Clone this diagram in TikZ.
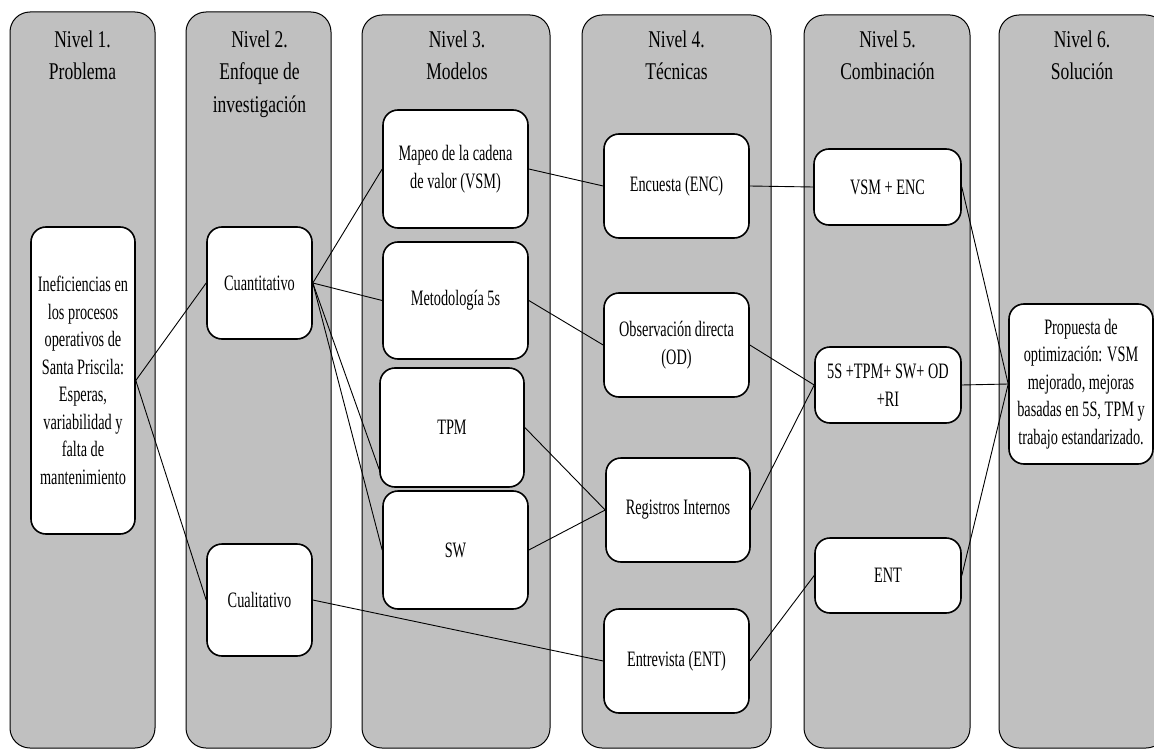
\documentclass[tikz,border=0pt]{standalone}
\usepackage{fontspec}
\setmainfont{Liberation Serif}[FakeStretch=0.65]
\newfontfamily\headfont{Liberation Serif}[FakeStretch=0.73]
\definecolor{lanegray}{RGB}{192,192,192}

\begin{document}
\begin{tikzpicture}[x=1pt,y=-1pt,
  lane/.style={draw=black, line width=1pt, fill=lanegray, rounded corners=20pt},
  head/.style={anchor=north, align=center, inner sep=0pt,
    font=\headfont\fontsize{24}{32.5}\selectfont},
  box/.style={draw=black, line width=1.6pt, fill=white, rounded corners=15pt,
    align=center, inner sep=0pt, font=\fontsize{22}{27.5}\selectfont},
  link/.style={draw=black, line width=0.9pt}]

\useasboundingbox (0,0) rectangle (1154,749);
\clip (0,0) rectangle (1154,749);

% level lanes
\path[lane] (10,12)  rectangle (155,748);
\path[lane] (186,12) rectangle (331,748);
\path[lane] (362,15) rectangle (550,748);
\path[lane] (582,15) rectangle (771,748);
\path[lane] (804,15) rectangle (970,748);
\path[lane] (999,15) rectangle (1166,748);

% lane headings
\node[head] (h1) at (82.5,30.5)  {Nivel 1.\\Problema};
\node[head] (h2) at (259.5,30.5) {Nivel 2.\\Enfoque de\\investigación};
\node[head] (h3) at (457,30.5)   {Nivel 3.\\Modelos};
\node[head] (h4) at (676.5,30.5) {Nivel 4.\\Técnicas};
\node[head] (h5) at (887.5,30.5) {Nivel 5.\\Combinación};
\node[head] (h6) at (1082,30.5)  {Nivel 6.\\Solución};

% level 1
\node[box, minimum width=104pt, minimum height=307pt] (prob) at (83,380.5)
  {Ineficiencias en\\los procesos\\operativos de\\Santa Priscila:\\Esperas,\\variabilidad y\\falta de\\mantenimiento};

% level 2
\node[box, minimum width=105pt, minimum height=112pt] (cuant) at (259.5,283) {Cuantitativo};
\node[box, minimum width=105pt, minimum height=112pt] (cual)  at (259.5,600) {Cualitativo};

% level 3
\node[box, minimum width=145pt, minimum height=118pt] (vsm)   at (455.5,169)   {Mapeo de la cadena\\de valor (VSM)};
\node[box, minimum width=145pt, minimum height=117pt] (cinco) at (455.5,300.5) {Metodología 5s};
\node[box, minimum width=144pt, minimum height=119pt] (tpm)   at (452,427.5)   {TPM};
\node[box, minimum width=145pt, minimum height=118pt] (sw)    at (455.5,550)   {SW};

% level 4
\node[box, minimum width=145pt, minimum height=104pt] (enc) at (676.5,186) {Encuesta (ENC)};
\node[box, minimum width=145pt, minimum height=104pt] (obs) at (676.5,345) {Observación directa\\(OD)};
\node[box, minimum width=144pt, minimum height=104pt] (reg) at (678,510)   {Registros Internos};
\node[box, minimum width=145pt, minimum height=104pt] (ent) at (676.5,661) {Entrevista (ENT)};

% level 5
\node[box, minimum width=147pt, minimum height=76pt] (comb1) at (887.5,187) {VSM + ENC};
\node[box, minimum width=146pt, minimum height=76pt] (comb2) at (888,385)   {5S +TPM+ SW+ OD\\+RI};
\node[box, minimum width=146pt, minimum height=75pt] (comb3) at (888,575.5) {ENT};

% level 6
\node[box, minimum width=144pt, minimum height=160pt] (sol) at (1081,384)
  {Propuesta de\\optimización: VSM\\mejorado, mejoras\\basadas en 5S, TPM y\\trabajo estandarizado.};

% connectors
\draw[link] (prob.east) -- (cuant.west);
\draw[link] (prob.east) -- (cual.west);
\draw[link] (cuant.east) -- (vsm.west);
\draw[link] (cuant.east) -- (cinco.west);
\draw[link] (cuant.east) -- (tpm.210);
\draw[link] (cuant.east) -- (sw.west);
\draw[link] (cual.east) -- (ent.west);
\draw[link] (vsm.east) -- (enc.west);
\draw[link] (cinco.east) -- (obs.west);
\draw[link] (tpm.east) -- (reg.west);
\draw[link] (sw.east) -- (reg.west);
\draw[link] (enc.east) -- (comb1.west);
\draw[link] (obs.east) -- (comb2.west);
\draw[link] (reg.east) -- (comb2.west);
\draw[link] (ent.east) -- (comb3.west);
\draw[link] (comb1.east) -- (sol.west);
\draw[link] (comb2.east) -- (sol.west);
\draw[link] (comb3.east) -- (sol.west);
\end{tikzpicture}
\end{document}
